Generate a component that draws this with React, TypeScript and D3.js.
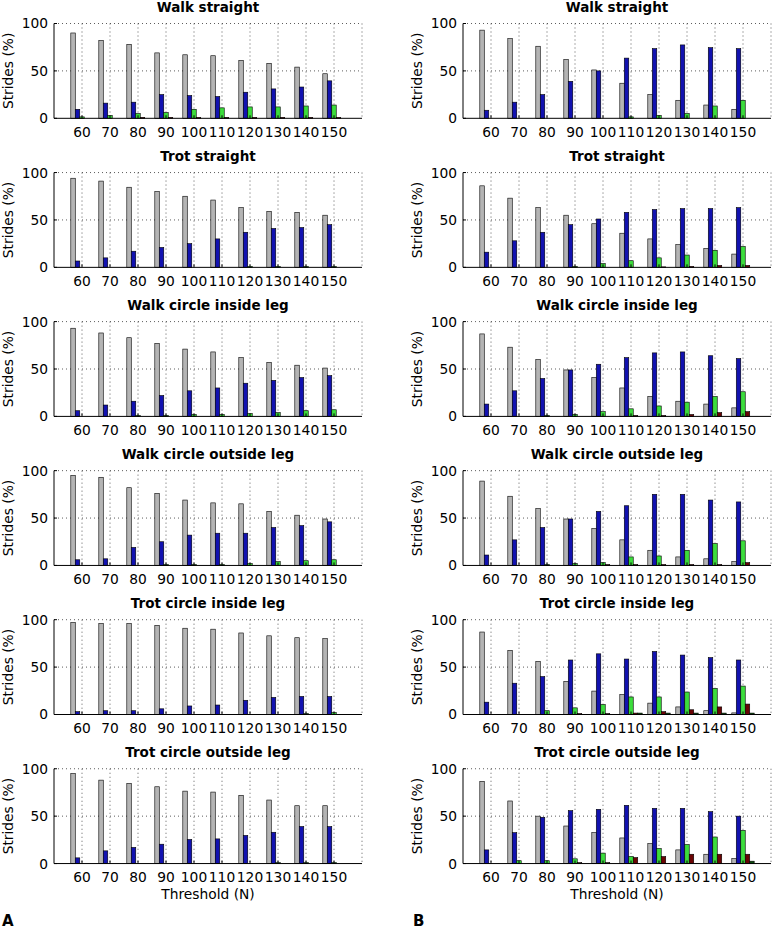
import React from "react";
import * as d3 from "d3";

const thresholds = [60, 70, 80, 90, 100, 110, 120, 130, 140, 150];
const gridX = [60, 70, 80, 90, 100, 110, 120, 130, 140, 150, 160];
const yTicks = [0, 50, 100];
const seriesColors = ["#b4b4b4", "#1212b0", "#3cdc3c", "#6a0404", "#0c4a0c"];

const titles = [
  "Walk straight",
  "Trot straight",
  "Walk circle inside leg",
  "Walk circle outside leg",
  "Trot circle inside leg",
  "Trot circle outside leg",
];

// Each panel: [gray, blue, green, dark red, dark green] over thresholds 60..150
const walkStraightA = [
  [90, 82, 78, 69, 67, 66, 61, 58, 54, 47],
  [9.5, 16, 17, 25, 24, 23, 27.5, 31, 33, 39.5],
  [1.5, 3, 5, 6, 9.5, 11, 12, 12, 13, 14],
  [0, 0, 1, 1, 1, 1, 1, 1, 1, 1],
  [0, 0, 0, 0, 0, 0, 0, 0, 0, 0],
];
const trotStraightA = [
  [94, 91, 84.5, 80, 75, 71, 63, 59, 58, 55],
  [6.7, 10, 17, 21, 25, 30, 37, 41, 42, 45],
  [0, 0, 0, 0, 0, 0, 1, 1, 1, 1],
  [0, 0, 0, 0, 0, 0, 0, 0, 0, 0],
  [0, 0, 0, 0, 0, 0, 0, 0, 0, 0],
];
const walkInsideA = [
  [93, 88, 83, 77, 71, 68, 62, 57, 54, 51],
  [6, 12, 16, 22, 27, 30, 35, 38, 41, 43],
  [0, 0, 1, 1, 2, 2, 3, 4, 6, 7],
  [0, 0, 0, 0, 0, 0, 0, 0, 0, 0],
  [0, 0, 0, 0, 0, 0, 0, 0, 0, 0],
];
const walkOutsideA = [
  [95, 93, 82, 76, 69, 66, 65, 57, 53, 49],
  [6, 7, 19, 25, 32, 34, 34, 40, 42, 46],
  [0, 0, 0, 1, 1, 1, 2, 4, 5, 6],
  [0, 0, 0, 0, 0, 0, 0, 0, 0, 0],
  [0, 0, 0, 0, 0, 0, 0, 0, 0, 0],
];
const trotInsideA = [
  [97, 96, 96, 94, 91, 90, 86, 83, 81, 80],
  [3, 4, 4, 6, 9, 10, 15, 18, 19, 19],
  [0, 0, 0, 0, 0, 0, 0, 0, 1, 2],
  [0, 0, 0, 0, 0, 0, 0, 0, 0, 0],
  [0, 0, 0, 0, 0, 0, 0, 0, 0, 0],
];
const trotOutsideA = [
  [95, 88, 84.5, 81, 76.4, 75.4, 72, 67, 61, 61],
  [6, 13.4, 17, 20.4, 25.4, 26, 29.6, 33, 39, 39],
  [0, 0, 0, 0, 0, 0, 0, 1, 1, 1],
  [0, 0, 0, 0, 0, 0, 0, 0, 0, 0],
  [0, 0, 0, 0, 0, 0, 0, 0, 0, 0],
];

const walkStraightB = [
  [93, 84, 76, 62, 51, 37, 25, 19, 14, 9.5],
  [8.5, 17, 25, 39, 50, 63.5, 73.5, 77.4, 74.5, 73.5],
  [0, 0, 0, 0, 0, 1.5, 3, 5, 13, 19],
  [0, 0, 0, 0, 0, 0, 0, 0, 0, 0],
  [0, 0, 0, 0, 0, 0, 0, 0, 0, 0],
];
const trotStraightB = [
  [86, 73, 63, 55, 46, 36, 30, 24, 20, 14],
  [16, 28, 37, 45, 51, 58, 61, 62, 62, 63],
  [0, 0, 0, 1, 4, 7, 10, 13, 18, 22],
  [0, 0, 0, 0, 0, 0, 0.5, 1, 2, 2],
  [0, 0, 0, 0, 0, 0, 0, 0, 0, 0],
];
const walkInsideB = [
  [87, 73, 60, 49, 41, 30, 21, 16, 13, 9],
  [13, 27, 40, 49, 55, 62, 67, 68, 64, 61],
  [0, 0, 1, 2, 5, 8, 11, 15, 21, 26],
  [0, 0, 0, 0, 0, 1, 1, 2, 4, 5],
  [0, 0, 0, 0, 0, 0, 0, 0, 0, 0],
];
const walkOutsideB = [
  [89, 73, 60, 49, 39, 27, 16, 9, 7, 4],
  [11, 27, 40, 49, 57, 63, 75, 75, 69, 67],
  [0, 0, 1, 2, 3, 9, 10, 16, 23, 26],
  [0, 0, 0, 0, 1, 1, 1, 1, 1, 3],
  [0, 0, 0, 0, 0, 0, 0, 0, 0, 0],
];
const trotInsideB = [
  [87, 67.6, 56, 35, 24.7, 21, 12, 8, 4, 1.7],
  [13, 33, 40, 57.5, 64, 58.5, 66.5, 62.7, 60, 57.5],
  [0, 0, 4, 7, 10.5, 18.5, 18.5, 23.7, 27.5, 30],
  [0, 0, 0, 1, 1, 1.5, 3, 5, 8, 11],
  [0, 0, 0, 0, 0, 1.5, 1.5, 1.5, 1.5, 1.5],
];
const trotOutsideB = [
  [86.7, 66, 50, 39.6, 32.6, 27, 21, 14.4, 9.8, 5.3],
  [14.4, 32.6, 48.8, 55.8, 57.2, 61.4, 58.2, 58.2, 54.7, 50],
  [0, 3, 3, 5, 11, 7.4, 15.8, 20, 28, 35],
  [0, 0, 0, 1, 1, 6.3, 7.4, 9.8, 9.8, 9.8],
  [0, 0, 0, 0, 0, 0, 0, 0, 0, 2.5],
];

const columnA = [walkStraightA, trotStraightA, walkInsideA, walkOutsideA, trotInsideA, trotOutsideA];
const columnB = [walkStraightB, trotStraightB, walkInsideB, walkOutsideB, trotInsideB, trotOutsideB];

const FONT = "'DejaVu Sans', Verdana, sans-serif";
const FS = 13.8;
const W = 773;
const H = 931;
const colLeft = [54, 463];
const plotW = 308;
const firstTop = 23.5;
const rowStep = 149.05;
const plotH = 94.8;

function Panel({ data, left, top, title, showX }: any) {
  const x = d3.scaleLinear().domain([50, 160]).range([left, left + plotW]);
  const y = d3.scaleLinear().domain([0, 100]).range([top + plotH, top]);
  const step = x(70) - x(60);
  const groupW = step * 0.8;
  const barW = groupW / data.length;
  const bottom = y(0);
  return (
    <g>
      {yTicks.filter((t) => t > 0).map((t) => (
        <line key={"gy" + t} x1={left} x2={left + plotW} y1={y(t)} y2={y(t)}
          stroke="#333" strokeWidth={0.8} strokeDasharray="1,3" />
      ))}
      {gridX.map((t) => (
        <line key={"gx" + t} x1={x(t)} x2={x(t)} y1={top} y2={bottom}
          stroke="#333" strokeWidth={0.8} strokeDasharray="1,3" />
      ))}
      {data.map((series: number[], si: number) =>
        series.map((v: number, ti: number) => {
          if (v <= 0) return null;
          const x0 = x(thresholds[ti]) - groupW / 2 + si * barW;
          return (
            <rect key={si + "-" + ti} x={x0} y={y(v)} width={barW} height={bottom - y(v)}
              fill={seriesColors[si]} stroke="#000" strokeWidth={0.6} />
          );
        })
      )}
      <line x1={left} x2={left + plotW} y1={bottom} y2={bottom} stroke="#000" strokeWidth={1} />
      <line x1={left} x2={left} y1={top} y2={bottom} stroke="#000" strokeWidth={1} />
      {yTicks.map((t) => (
        <g key={"yt" + t}>
          <line x1={left} x2={left + 3} y1={y(t)} y2={y(t)} stroke="#000" strokeWidth={1} />
          <text x={left - 6} y={y(t)} dy="0.36em" textAnchor="end" fontSize={FS} fontFamily={FONT}>{t}</text>
        </g>
      ))}
      {thresholds.map((t) => (
        <g key={"xt" + t}>
          <line x1={x(t)} x2={x(t)} y1={bottom} y2={bottom - 3} stroke="#000" strokeWidth={1} />
          <text x={x(t)} y={bottom + 18.8} textAnchor="middle" fontSize={FS} fontFamily={FONT}>{t}</text>
        </g>
      ))}
      <text x={left + plotW / 2} y={top - 12} textAnchor="middle" fontSize={13.5} fontWeight="bold" fontFamily={FONT}>{title}</text>
      <text transform={`translate(${left - 46},${top + plotH / 2}) rotate(-90)`} textAnchor="middle" dy="0.36em"
        fontSize={FS} fontFamily={FONT}>Strides (%)</text>
      {showX && (
        <text x={left + plotW / 2} y={bottom + 35.5} textAnchor="middle" fontSize={FS} fontFamily={FONT}>Threshold (N)</text>
      )}
    </g>
  );
}

export default function App() {
  return (
    <svg width={W} height={H} style={{ position: "absolute", left: 0, top: 0, background: "#fff" }}>
      <rect x={0} y={0} width={W} height={H} fill="#fff" />
      {[columnA, columnB].map((col, ci) =>
        col.map((data, ri) => (
          <Panel key={ci + "-" + ri} data={data} left={colLeft[ci]} top={firstTop + ri * rowStep}
            title={titles[ri]} showX={ri === 5} />
        ))
      )}
      <text x={2} y={926} fontSize={15} fontWeight="bold" fontFamily={FONT}>A</text>
      <text x={413} y={926} fontSize={15} fontWeight="bold" fontFamily={FONT}>B</text>
    </svg>
  );
}
